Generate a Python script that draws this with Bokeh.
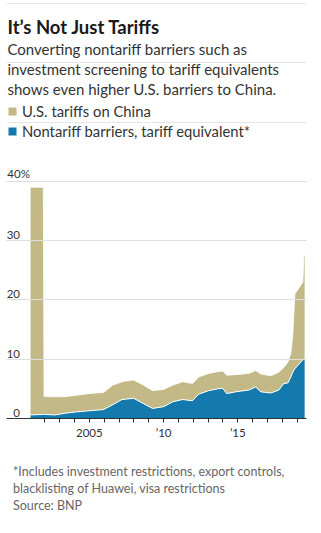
from bokeh.plotting import figure
from bokeh.layouts import column
from bokeh.models import (ColumnDataSource, Label, Legend, LegendItem, FixedTicker,
                          Grid, Range1d)
from bokeh.core.properties import value
from bokeh.embed import file_html
from bokeh.resources import INLINE

# ---------------- data ----------------
years = [2001.04, 2001.9, 2001.95, 2002.7, 2003.4, 2004.07, 2004.95, 2005.96,
         2006.56, 2007.2, 2007.98, 2008.66, 2009.26, 2010.0, 2010.6, 2011.28,
         2011.95, 2012.36, 2013.03, 2013.64, 2013.98, 2014.25, 2014.86, 2015.74,
         2016.2, 2016.55, 2017.22, 2017.76, 2018.1, 2018.37, 2018.57, 2018.7,
         2018.84, 2019.38, 2019.45, 2019.5]
nontariff = [0.6, 0.7, 0.7, 0.6, 0.9, 1.1, 1.3, 1.5,
             2.3, 3.2, 3.4, 2.5, 1.7, 2.0, 2.8, 3.2,
             3.0, 4.1, 4.7, 5.0, 5.1, 4.2, 4.5, 4.8,
             5.3, 4.5, 4.3, 4.8, 5.9, 6.0, 7.0, 7.8,
             8.4, 9.9, 10.0, 10.0]
tariffs = [38.4, 38.3, 3.0, 3.05, 2.8, 2.8, 2.9, 2.9,
           3.3, 3.0, 3.1, 3.1, 3.0, 2.9, 2.8, 3.0,
           2.9, 2.9, 2.9, 2.9, 2.9, 3.1, 2.9, 2.8,
           2.8, 3.0, 2.9, 3.0, 2.7, 3.5, 4.0, 6.2,
           12.6, 13.1, 17.5, 17.5]

series_labels = ["U.S. tariffs on China", "Nontariff barriers, tariff equivalent*"]
x_ticks = list(range(2002, 2020))
x_tick_labels = {2005: "2005", 2010: "\u201910", 2015: "\u201915"}
y_ticks = [0, 10, 20, 30, 40]
y_tick_labels = ["0", "10", "20", "30", "40%"]

title_text = "It\u2019s Not Just Tariffs"
subtitle_lines = ["Converting nontariff barriers such as",
                  "investment screening to tariff equivalents",
                  "shows even higher U.S. barriers to China."]
note_lines = ["*Includes investment restrictions, export controls,",
              "blacklisting of Huawei, visa restrictions",
              "Source: BNP"]

# ---------------- styling / layout ----------------
W = 321
H1 = 445            # chart figure height
H2 = 533 - H1       # footnote figure height
FL, FR, FB = 6, 15, 27
TAN = "#c2b986"
BLUE = "#1479ad"
FONT = "Lato"
frame_bottom = H1 - FB          # 418 px
px_per_unit = 5.929

top_total = [a + b for a, b in zip(nontariff, tariffs)]
src = ColumnDataSource(dict(x=years, nt=nontariff, top=top_total,
                            zero=[0] * len(years)))

p = figure(width=W, height=H1, output_backend="svg", toolbar_location=None,
           x_range=Range1d(1999.42, 2019.626),
           y_range=Range1d(0, frame_bottom / px_per_unit),
           y_axis_location=None, min_border_left=FL, min_border_right=FR,
           min_border_top=0, min_border_bottom=FB)
p.outline_line_color = None
p.background_fill_color = "white"
p.border_fill_color = "white"
p.xgrid.visible = False

r_nt = p.varea(x="x", y1="zero", y2="nt", source=src, fill_color=BLUE)
r_tar = p.varea(x="x", y1="nt", y2="top", source=src, fill_color=TAN)
p.line(x="x", y="nt", source=src, line_color="white", line_width=1)
p.line(x="x", y="top", source=src, line_color="white", line_width=0.8)

grid = Grid(dimension=1, ticker=FixedTicker(ticks=y_ticks[1:]),
            grid_line_color="#dedede", grid_line_width=1, level="guide")
p.add_layout(grid)

ax = p.xaxis[0]
ax.ticker = FixedTicker(ticks=x_ticks)
ax.major_label_overrides = {t: x_tick_labels.get(t, "") for t in x_ticks}
ax.axis_line_color = "#333333"
ax.major_tick_line_color = "#333333"
ax.major_tick_out = 4
ax.major_tick_in = 0
ax.minor_tick_line_color = None
ax.major_label_text_font = FONT
ax.major_label_text_font_size = "11.5px"
ax.major_label_text_color = "#333333"
ax.major_label_standoff = 3

# y tick labels sitting above the gridlines
xs0 = p.x_range.start
p.text(x=[xs0] * 4, y=y_ticks[:4], text=y_tick_labels[:4], x_offset=13.5, y_offset=-1.5,
       text_align="right", text_baseline="bottom", text_font=value(FONT),
       text_font_size="11.5px", text_color="#333333")
p.text(x=[xs0], y=y_ticks[4:], text=y_tick_labels[4:], x_offset=0.8, y_offset=-1.5,
       text_align="left", text_baseline="bottom", text_font=value(FONT),
       text_font_size="11.5px", text_color="#333333")


def lab(text, X, Y, size, color, style="normal"):
    p.add_layout(Label(x=X - FL, y=frame_bottom - Y, x_units="screen", y_units="screen",
                       text=text, text_font=FONT, text_font_size=size,
                       text_color=color, text_font_style=style,
                       text_baseline="alphabetic", text_align="left"))


lab(title_text, 7, 26.5, "18.5px", "#1a1a1a", "bold")
for i, s in enumerate(subtitle_lines):
    lab(s, 7, 48.5 + 20 * i, "15px", "#333333")

# legend: location gives the bottom-left corner of the box
legend = Legend(items=[LegendItem(label=series_labels[0], renderers=[r_tar]),
                       LegendItem(label=series_labels[1], renderers=[r_nt])],
                location=(1, frame_bottom - 140.5), orientation="vertical",
                padding=0, margin=0, spacing=0, glyph_width=10, glyph_height=10,
                label_height=20, label_standoff=5, border_line_color=None,
                background_fill_alpha=0, label_text_font=FONT,
                label_text_font_size="14.8px", label_text_color="#333333")
p.add_layout(legend)

# ---------------- footnote figure ----------------
q = figure(width=W, height=H2, output_backend="svg", toolbar_location=None,
           x_range=Range1d(0, W), y_range=Range1d(H2, 0),
           x_axis_location=None, y_axis_location=None,
           min_border=0, min_border_left=0, min_border_right=0,
           min_border_top=0, min_border_bottom=0)
q.outline_line_color = None
q.grid.visible = False
q.text(x=[7] * len(note_lines), y=[471 - H1 + 17 * i for i in range(len(note_lines))],
       text=note_lines, text_font=value(FONT), text_font_size="12.5px",
       text_color="#666666", text_baseline="alphabetic", text_align="left")

layout = column(p, q, spacing=0)
open("out.html", "w").write(file_html(layout, INLINE))
